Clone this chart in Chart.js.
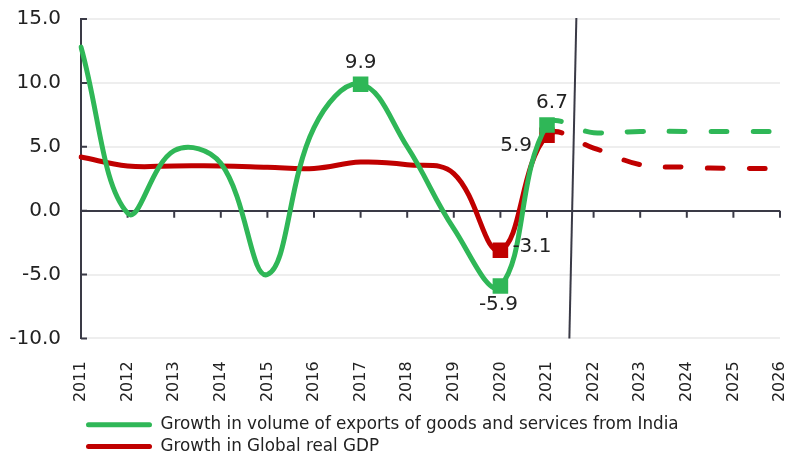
<!DOCTYPE html>
<html>
<head>
<meta charset="utf-8">
<script src="https://cdn.jsdelivr.net/npm/chart.js@4/dist/chart.umd.min.js"></script>
<style>
  html, body { margin: 0; padding: 0; background: #fff; }
  #wrap { width: 790px; height: 457px; position: relative; }
</style>
</head>
<body>
<div id="wrap"><canvas id="myChart"></canvas></div>
<script>
const years = ['2011', '2012', '2013', '2014', '2015', '2016', '2017', '2018',
    '2019', '2020', '2021', '2022', '2023', '2024', '2025', '2026'];

const exportsGrowth = [12.8, -0.2, 4.7, 3.7, -5.0, 6.5, 9.9, 5.0, -1.4, -5.9, 6.7, 6.1, 6.2, 6.2, 6.2, 6.2];
const gdpGrowth = [4.2, 3.5, 3.5, 3.5, 3.4, 3.3, 3.8, 3.6, 2.9, -3.1, 5.9, 4.9, 3.6, 3.4, 3.3, 3.3];

const yTicks = [-10, -5, 0, 5, 10, 15];

// 2021 is the last actual year, after it the lines are projections (dashed)
const lastActual = 10;
const markedExports = [6, 9, 10];
const markedGdp = [9, 10];

const green = '#2fb757';
const red = '#c00000';
const axisColor = '#3a3a46';

// where the value labels go, relative to the point
const labelSpots = [
    { ds: 0, i: 6, dx: 0, dy: -21, align: 'center' },
    { ds: 0, i: 9, dx: -2, dy: 19, align: 'center' },
    { ds: 0, i: 10, dx: 5, dy: -22, align: 'center' },
    { ds: 1, i: 9, dx: 12, dy: -3, align: 'left' },
    { ds: 1, i: 10, dx: -15, dy: 11, align: 'right' }
];

Chart.defaults.font.family = 'DejaVu Sans';
Chart.defaults.color = '#222';

const radii = (marked, size) => years.map((y, i) => marked.includes(i) ? size : 0);
const dashAfter = ctx => ctx.p0DataIndex >= lastActual ? [16, 26] : undefined;

const extras = {
    id: 'extras',
    beforeDatasetsDraw(chart) {
        const { ctx, scales: { x, y } } = chart;
        const zero = y.getPixelForValue(0);
        ctx.save();
        ctx.strokeStyle = axisColor;
        ctx.lineWidth = 2;
        ctx.beginPath();
        for (let i = 1; i < years.length; i++) {
            const px = x.getPixelForValue(i);
            ctx.moveTo(px, zero);
            ctx.lineTo(px, zero + 7);
        }
        yTicks.forEach(v => {
            const py = y.getPixelForValue(v);
            ctx.moveTo(x.left, py);
            ctx.lineTo(x.left + 6, py);
        });
        ctx.stroke();
        ctx.restore();
    },
    afterDatasetsDraw(chart) {
        const { ctx, scales: { x, y } } = chart;
        ctx.save();
        // divider between actuals and projections
        ctx.strokeStyle = axisColor;
        ctx.lineWidth = 2;
        ctx.beginPath();
        ctx.moveTo(x.getPixelForValue(10.63), y.top - 1);
        ctx.lineTo(x.getPixelForValue(10.48), y.bottom);
        ctx.stroke();

        ctx.font = '20px "DejaVu Sans"';
        ctx.fillStyle = '#222';
        ctx.textBaseline = 'middle';
        labelSpots.forEach(s => {
            const pt = chart.getDatasetMeta(s.ds).data[s.i];
            const v = chart.data.datasets[s.ds].data[s.i];
            ctx.textAlign = s.align;
            ctx.fillText(v.toFixed(1), pt.x + s.dx, pt.y + s.dy);
        });
        ctx.restore();
    }
};

const data = {
    labels: years,
    datasets: [{
        label: 'Growth in volume of exports of goods and services from India',
        data: exportsGrowth,
        borderColor: green,
        backgroundColor: green,
        borderWidth: 5,
        borderCapStyle: 'round',
        tension: 0.4,
        pointStyle: 'rect',
        pointRadius: radii(markedExports, 11),
        pointBorderWidth: 0,
        segment: { borderDash: dashAfter }
    }, {
        label: 'Growth in Global real GDP',
        data: gdpGrowth,
        borderColor: red,
        backgroundColor: red,
        borderWidth: 5,
        borderCapStyle: 'round',
        tension: 0.4,
        pointStyle: 'rect',
        pointRadius: radii(markedGdp, 11),
        pointBorderWidth: 0,
        segment: { borderDash: dashAfter }
    }]
};

const config = {
    type: 'line',
    data: data,
    options: {
        responsive: true,
        maintainAspectRatio: false,
        animation: false,
        layout: { padding: { top: 19, right: 10, bottom: -8, left: 0 } },
        plugins: {
            tooltip: { enabled: false },
            legend: {
                position: 'bottom',
                align: 'start',
                fullSize: false,
                labels: {
                    boxWidth: 66,
                    boxHeight: 5,
                    useBorderRadius: true,
                    borderRadius: 2.5,
                    padding: 5,
                    color: '#222',
                    font: { family: 'DejaVu Sans', size: 16.8 },
                    generateLabels: chart => Chart.defaults.plugins.legend.labels.generateLabels(chart)
                        .map(item => ({ ...item, lineWidth: 0 }))
                }
            }
        },
        scales: {
            x: {
                grid: { display: false },
                border: { display: false },
                ticks: {
                    minRotation: 90,
                    maxRotation: 90,
                    autoSkip: false,
                    padding: 15,
                    font: { size: 16 }
                },
                afterFit: s => {
                    s.height = 73;
                    s.paddingLeft = 0;
                    s.paddingRight = 0;
                }
            },
            y: {
                min: -10,
                max: 15,
                afterBuildTicks: s => { s.ticks = yTicks.map(v => ({ value: v })); },
                grid: {
                    drawTicks: false,
                    color: c => c.tick && c.tick.value === 0 ? axisColor : '#eeeeee',
                    lineWidth: 2
                },
                border: { display: true, color: axisColor, width: 2 },
                ticks: {
                    padding: 20,
                    font: { size: 20 },
                    callback: v => v.toFixed(1)
                },
                afterFit: s => {
                    s.width = 81;
                    s.paddingTop = 0;
                    s.paddingBottom = 0;
                }
            }
        }
    },
    plugins: [extras]
};

const myChart = new Chart(document.getElementById('myChart'), config);
</script>
</body>
</html>
